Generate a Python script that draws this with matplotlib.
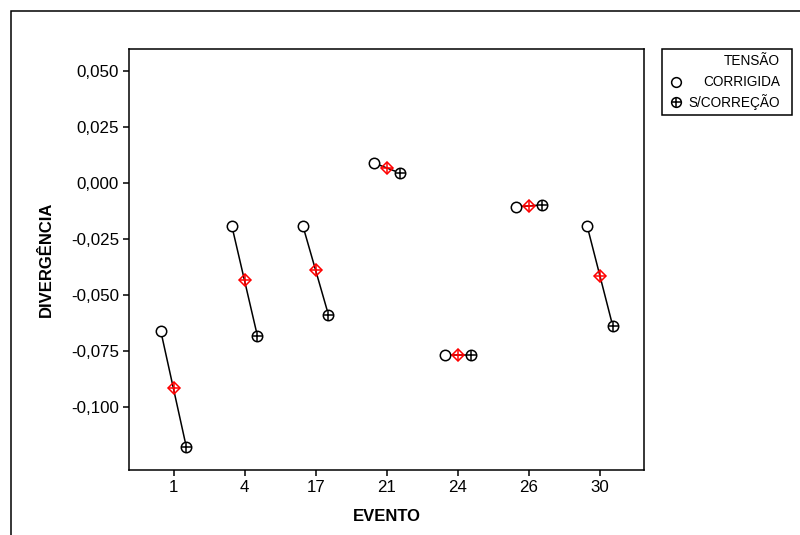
import matplotlib
matplotlib.use('Agg')
import matplotlib.pyplot as plt
from matplotlib.lines import Line2D
from matplotlib.patches import Rectangle
import numpy as np

plt.rcParams['font.family'] = ['Liberation Sans', 'DejaVu Sans']

# Dados
eventos = ['1', '4', '17', '21', '24', '26', '30']
corrigida = [-0.0661, -0.0192, -0.0192, 0.0089, -0.0768, -0.0107, -0.0192]
sem_correcao = [-0.1179, -0.0683, -0.0589, 0.0045, -0.0768, -0.0098, -0.0638]
media = [-0.0915, -0.0435, -0.0388, 0.0067, -0.0768, -0.0103, -0.0415]
y_ticks = [0.050, 0.025, 0.000, -0.025, -0.050, -0.075, -0.100]

fig = plt.figure(figsize=(8, 5.35), dpi=100)
ax = fig.add_axes([0.161, 0.1215, 0.644, 0.787])

x = np.arange(len(eventos))
dx = 0.18

# linha ligando os pontos de cada evento
for i in x:
    ax.plot([i - dx, i + dx], [corrigida[i], sem_correcao[i]], color='black', lw=1.1, zorder=1)

ax.plot(x - dx, corrigida, 'o', ms=7.5, mfc='white', mec='black', mew=1.1, ls='none', zorder=3)
ax.plot(x + dx, sem_correcao, 'o', ms=7.5, mfc='white', mec='black', mew=1.1, ls='none', zorder=3)
ax.plot(x + dx, sem_correcao, '+', ms=7.5, mec='black', mew=1.1, ls='none', zorder=4)
ax.plot(x, media, 'D', ms=6.5, mfc='none', mec='red', mew=1.1, ls='none', zorder=5)
ax.plot(x, media, '+', ms=7, mec='red', mew=1.1, ls='none', zorder=5)

ax.set_xlim(-0.63, 6.62)
ax.set_ylim(-0.1281, 0.0598)
ax.set_xticks(x)
ax.set_xticklabels(eventos)
ax.set_yticks(y_ticks)
ax.set_yticklabels([f'{v:.3f}'.replace('.', ',') for v in y_ticks])
ax.tick_params(labelsize=12.2, length=4, width=1.1, pad=3, colors='black')
for s in ax.spines.values():
    s.set_linewidth(1.1)

ax.set_xlabel('EVENTO', fontsize=12, fontweight='bold', labelpad=10)
ax.set_ylabel('DIVERGÊNCIA', fontsize=12, fontweight='bold', labelpad=12)

# moldura externa
fig.add_artist(Rectangle((11 / 800, -0.5), 2, 1.5 - 11 / 535, transform=fig.transFigure,
                         fill=False, ec='black', lw=1.1))

# legenda
fig.add_artist(Rectangle((0.8275, 0.785), 0.1625, 0.1234, transform=fig.transFigure,
                         fill=False, ec='black', lw=1.1))
fig.text(0.975, 0.886, 'TENSÃO', ha='right', va='center', fontsize=9.8)
fig.text(0.975, 0.847, 'CORRIGIDA', ha='right', va='center', fontsize=9.8)
fig.text(0.975, 0.809, 'S/CORREÇÃO', ha='right', va='center', fontsize=9.8)
fig.add_artist(Line2D([0.845], [0.847], marker='o', ms=7, mfc='white', mec='black', mew=1.1,
                      transform=fig.transFigure))
fig.add_artist(Line2D([0.845], [0.809], marker='o', ms=7, mfc='white', mec='black', mew=1.1,
                      transform=fig.transFigure))
fig.add_artist(Line2D([0.845], [0.809], marker='+', ms=7, mec='black', mew=1.1,
                      transform=fig.transFigure))

plt.savefig('out.png')
